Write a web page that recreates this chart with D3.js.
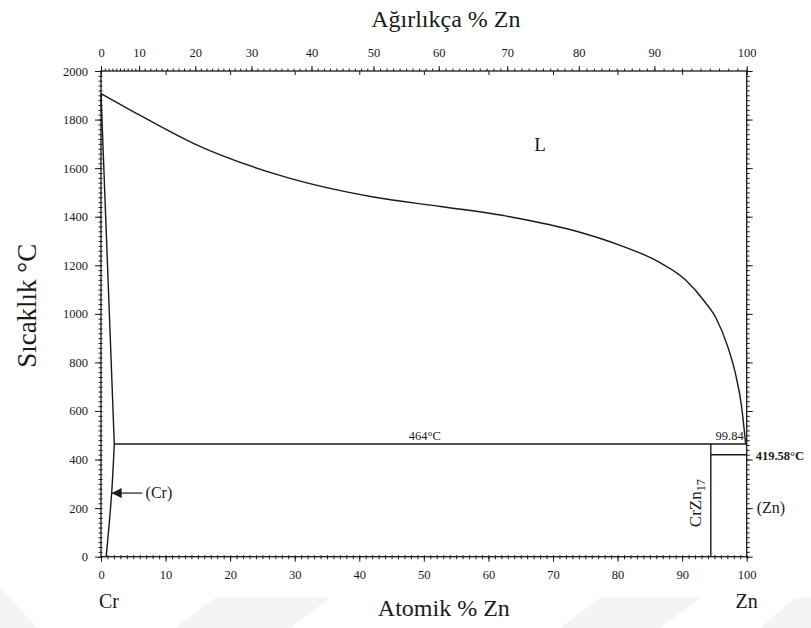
<!DOCTYPE html>
<html>
<head>
<meta charset="utf-8">
<script src="https://cdn.jsdelivr.net/npm/d3@7"></script>
<style>
  html, body { margin: 0; padding: 0; background: #fff; }
  svg, svg text { font-family: "Liberation Serif", "Times New Roman", Times, Tinos, "Noto Serif", "DejaVu Serif", serif; }
</style>
</head>
<body>
<svg id="chart" width="811" height="628"></svg>
<script>
// Cr–Zn phase diagram (atomic % Zn vs temperature)

// Liquidus: [at.% Zn, °C]
const liquidus = [
  [0, 1907], [6, 1818], [14.3, 1702], [27.7, 1570], [42.4, 1480],
  [52.6, 1442], [63.3, 1400], [73.9, 1338], [80.4, 1282], [86.3, 1215],
  [90.5, 1140], [93.5, 1050], [95.3, 980], [97.0, 870], [98.2, 760],
  [99.2, 620], [99.84, 464]
];
// (Cr) solidus above the eutectic and solvus below it
const crSolidus = [[0, 1907], [2.06, 464]];
const crSolvus = [[2.06, 464], [1.65, 262], [0.8, 0]];

// Invariant reactions
const eutecticT = 464;
const eutecticX = 99.84;
const zincMeltT = 419.58;
const crZn17X = 94.44;

// Axis ticks
const atomicTicks = [0, 10, 20, 30, 40, 50, 60, 70, 80, 90, 100];
const tempTicks = [0, 200, 400, 600, 800, 1000, 1200, 1400, 1600, 1800, 2000];
const weightTicks = [0, 10, 20, 30, 40, 50, 60, 70, 80, 90, 100];
// atomic % Zn at which each weight % tick sits on the top scale
const weightTickAtomic = [0, 5.9, 14.6, 23.3, 32.6, 42.2, 52.3, 62.9, 74.0, 85.7, 100];

const svg = d3.select("#chart");
const plotL = 101, plotR = 746.7, plotT = 71, plotB = 556.7;

const x = d3.scaleLinear().domain([0, 100]).range([plotL, plotR]);
const y = d3.scaleLinear().domain([0, 2000]).range([plotB, plotT]);
const wt = d3.scaleLinear().domain(weightTicks).range(weightTickAtomic);

const ink = "#1a1a1a";
const serif = '"Liberation Serif", "Times New Roman", Times, Tinos, "Noto Serif", "DejaVu Serif", serif';

// faint background bands along the bottom edge
const bands = [
  [[0, 588], [38, 628], [0, 628]],
  [[175, 628], [215, 598], [330, 598], [290, 628]],
  [[560, 628], [600, 598], [700, 598], [660, 628]],
  [[760, 628], [795, 598], [811, 598], [811, 628]]
];
svg.append("g").selectAll("path").data(bands).join("path")
  .attr("d", d => "M" + d.join("L") + "Z")
  .attr("fill", "#f4f4f4");

// ---- axes ----
function styleAxis(g) {
  g.attr("font-family", serif);
  g.select(".domain").remove();
  g.selectAll(".tick line").attr("stroke", ink).attr("stroke-width", 1);
  g.selectAll(".tick text").attr("fill", ink)
    .attr("font-family", serif).attr("font-size", 12.5);
}
const minorAt = d3.range(0, 101, 1);
const minorT = d3.range(0, 2001, 20);
const minorWt = d3.range(0, 101, 1);

// bottom: atomic %
svg.append("g").attr("transform", `translate(0,${plotB})`)
  .call(d3.axisBottom(x).tickValues(minorAt).tickSize(2.5).tickFormat(""))
  .call(styleAxis);
svg.append("g").attr("transform", `translate(0,${plotB})`)
  .call(d3.axisTop(x).tickValues(minorAt).tickSize(1.5).tickFormat(""))
  .call(styleAxis);
svg.append("g").attr("transform", `translate(0,${plotB})`)
  .call(d3.axisBottom(x).tickValues(atomicTicks).tickSize(5).tickPadding(8).tickFormat(d3.format("d")))
  .call(styleAxis);

// top: weight %
svg.append("g").attr("transform", `translate(0,${plotT})`)
  .call(d3.axisTop(x).tickValues(minorWt.map(wt)).tickSize(2.5).tickFormat(""))
  .call(styleAxis);
svg.append("g").attr("transform", `translate(0,${plotT})`)
  .call(d3.axisTop(x).tickValues(weightTicks.map(wt)).tickSize(5).tickPadding(9)
    .tickFormat((d, i) => weightTicks[i]))
  .call(styleAxis);
svg.append("g").attr("transform", `translate(0,${plotT})`)
  .call(d3.axisBottom(x).tickValues(atomicTicks).tickSize(4).tickFormat(""))
  .call(styleAxis);

// left: temperature
svg.append("g").attr("transform", `translate(${plotL},0)`)
  .call(d3.axisLeft(y).tickValues(minorT).tickSize(2.5).tickFormat(""))
  .call(styleAxis);
svg.append("g").attr("transform", `translate(${plotL},0)`)
  .call(d3.axisRight(y).tickValues(minorT).tickSize(1.5).tickFormat(""))
  .call(styleAxis);
svg.append("g").attr("transform", `translate(${plotL},0)`)
  .call(d3.axisLeft(y).tickValues(tempTicks).tickSize(6).tickPadding(7).tickFormat(d3.format("d")))
  .call(styleAxis);

// right: temperature ticks only
svg.append("g").attr("transform", `translate(${plotR},0)`)
  .call(d3.axisRight(y).tickValues(minorT).tickSize(3).tickFormat(""))
  .call(styleAxis);
svg.append("g").attr("transform", `translate(${plotR},0)`)
  .call(d3.axisRight(y).tickValues(tempTicks).tickSize(6).tickFormat(""))
  .call(styleAxis);

// frame
svg.append("rect")
  .attr("x", plotL).attr("y", plotT)
  .attr("width", plotR - plotL).attr("height", plotB - plotT)
  .attr("fill", "none").attr("stroke", ink).attr("stroke-width", 1.3);

// ---- phase boundaries ----
const g = svg.append("g").attr("fill", "none").attr("stroke", ink).attr("stroke-width", 1.4);

g.append("path").attr("d", d3.line().x(d => x(d[0])).y(d => y(d[1])).curve(d3.curveMonotoneX)(liquidus));
g.append("path").attr("d", d3.line().x(d => x(d[0])).y(d => y(d[1]))(crSolidus));
g.append("path").attr("d", d3.line().x(d => x(d[0])).y(d => y(d[1])).curve(d3.curveMonotoneY)(crSolvus));

// eutectic line at 464 °C
g.append("line")
  .attr("x1", x(crSolidus[1][0])).attr("x2", x(100))
  .attr("y1", y(eutecticT)).attr("y2", y(eutecticT));
// Zn melting isotherm
g.append("line")
  .attr("x1", x(crZn17X)).attr("x2", x(100))
  .attr("y1", y(zincMeltT)).attr("y2", y(zincMeltT));
// CrZn17 line compound
g.append("line")
  .attr("x1", x(crZn17X)).attr("x2", x(crZn17X))
  .attr("y1", y(eutecticT)).attr("y2", y(0));

// ---- labels ----
const txt = (px, py, s, size, anchor = "middle") => svg.append("text")
  .attr("x", px).attr("y", py).attr("font-size", size).attr("font-family", serif)
  .attr("text-anchor", anchor).attr("fill", ink).text(s);

txt(x(50) + 1, y(eutecticT) - 4, "464°C", 12.5);
txt(x(100) - 3, y(eutecticT) - 4, String(eutecticX), 12.5, "end");
txt(x(100) + 9, y(zincMeltT) + 5, zincMeltT + "°C", 12.5, "start").attr("font-weight", "bold");
txt(x(100) + 10, y(200) + 5, "(Zn)", 16, "start");
txt(x(68), y(1672), "L", 19);

// (Cr) arrow
svg.append("defs").append("marker")
  .attr("id", "arrowhead").attr("viewBox", "0 0 10 10")
  .attr("refX", 10).attr("refY", 5)
  .attr("markerWidth", 10).attr("markerHeight", 10)
  .attr("markerUnits", "userSpaceOnUse").attr("orient", "auto")
  .append("path").attr("d", "M0,0L10,5L0,10Z").attr("fill", ink);
svg.append("line")
  .attr("x1", x(6.4)).attr("x2", x(crSolvus[1][0]))
  .attr("y1", y(crSolvus[1][1])).attr("y2", y(crSolvus[1][1]))
  .attr("stroke", ink).attr("stroke-width", 1.2)
  .attr("marker-end", "url(#arrowhead)");
txt(x(6.9), y(crSolvus[1][1]) + 5, "(Cr)", 16, "start");

// CrZn17 rotated label
const cz = svg.append("text")
  .attr("transform", `translate(${x(crZn17X) - 10},${y(220)}) rotate(-90)`)
  .attr("text-anchor", "middle").attr("font-size", 17).attr("font-family", serif).attr("fill", ink);
cz.append("tspan").text("CrZn");
cz.append("tspan").attr("font-size", 12).attr("dy", 4).text("17");

// axis titles and end members
txt((plotL + plotR) / 2 + 22, 27, "Ağırlıkça % Zn", 24);
txt((plotL + plotR) / 2 + 20, 616, "Atomik % Zn", 24);
svg.append("text")
  .attr("transform", `translate(36,${(plotT + plotB) / 2 - 8}) rotate(-90)`)
  .attr("text-anchor", "middle").attr("font-size", 27).attr("font-family", serif).attr("fill", ink)
  .text("Sıcaklık °C");
txt(plotL - 2, 608, "Cr", 20, "start");
txt(plotR + 11, 608, "Zn", 20, "end");
</script>
</body>
</html>
